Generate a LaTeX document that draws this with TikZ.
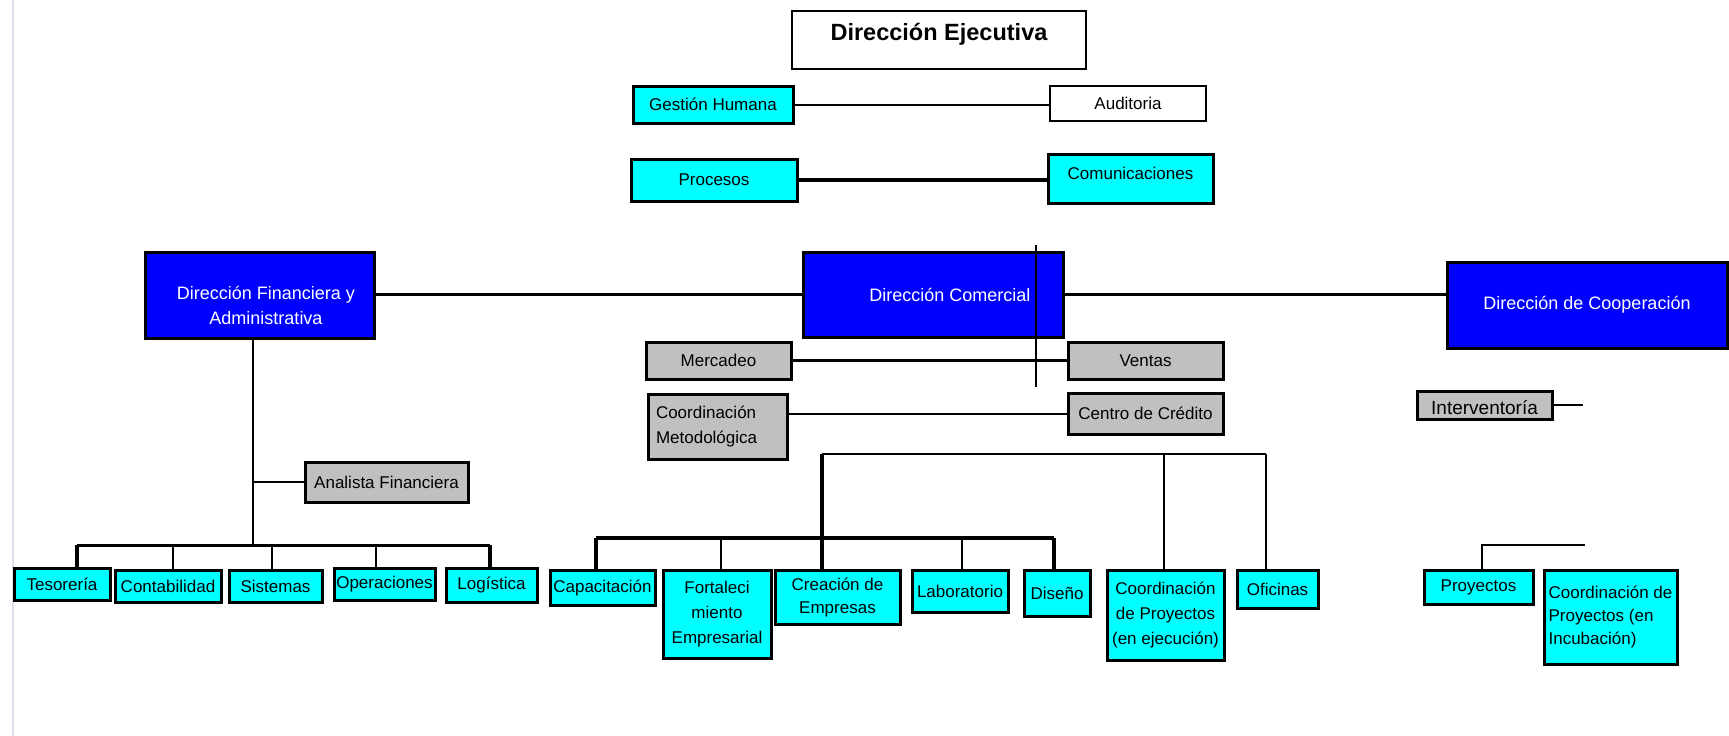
\documentclass[tikz,border=0pt]{standalone}
\usepackage{fontspec}
\setmainfont{Liberation Sans}
\definecolor{boxcyan}{RGB}{0,255,255}
\definecolor{boxblue}{RGB}{0,0,255}
\definecolor{boxgray}{RGB}{192,192,192}
\definecolor{marginline}{RGB}{218,224,236}

% box given by its corners (x1,y1) and (x2,y2), y growing downwards
\newcommand\orgbox[7]{%
  \node[#6, minimum width={(#4-#2)*1pt}, minimum height={(#5-#3)*1pt}]
    (#1) at ({(#2+#4)/2},{(#3+#5)/2}) {#7};}

\tikzset{
  base/.style={draw=black, line width=3pt, inner sep=0pt,
    font=\fontsize{17}{25}\selectfont, text=black, align=center},
  cyanbox/.style={base, fill=boxcyan},
  graybox/.style={base, fill=boxgray},
  whitebox/.style={base, fill=white, line width=2pt},
  bluebox/.style={base, fill=boxblue, text=white, font=\fontsize{18}{25}\selectfont},
  ln/.style={line width=2pt},
  lnk/.style={line width=3.5pt},
  lnx/.style={line width=4.5pt},
}

\begin{document}
\begin{tikzpicture}[x=1pt, y=-1pt]
\useasboundingbox (0,0) rectangle (1729,736);

% page margin rule
\coordinate (mtop) at (12.6,0);
\coordinate (mbot) at (12.6,736);
\draw[marginline, line width=2pt] (mtop) -- (mbot);

% executive level
\orgbox{dej}{792}{11}{1086}{69}{whitebox, font=\fontsize{23.5}{28}\selectfont\bfseries, text height=16pt, text depth=16pt}{Dirección Ejecutiva}
\orgbox{gh}{633}{86}{793}{123}{cyanbox}{Gestión Humana}
\orgbox{aud}{1050}{86}{1206}{121}{whitebox}{Auditoria}
\orgbox{proc}{631}{159}{797}{201}{cyanbox}{Procesos}
\orgbox{com}{1048}{154}{1213}{203}{cyanbox, text height=12pt, text depth=11pt}{Comunicaciones}

% directions
\orgbox{dfin}{145}{252}{374}{338}{bluebox, text height=60pt, text depth=2pt}{\hspace*{13pt}Dirección Financiera y\\\hspace*{13pt}Administrativa}
\orgbox{dcom}{803}{252}{1063}{337}{bluebox}{\hspace*{34pt}Dirección Comercial}
\orgbox{dcoop}{1447}{262}{1727}{348}{bluebox}{Dirección de Cooperación}

% commercial staff
\orgbox{merc}{646}{342}{791}{379}{graybox}{Mercadeo}
\orgbox{vent}{1068}{342}{1223}{379}{graybox}{Ventas}
\orgbox{cmet}{648}{394}{787}{459}{graybox, align=left, text width=123pt}{Coordinación\\Metodológica}
\orgbox{ccred}{1068}{393}{1223}{434}{graybox}{Centro de Crédito}
\orgbox{anal}{305}{462}{468}{502}{graybox}{Analista Financiera}
\orgbox{inter}{1417}{391}{1552}{419}{graybox, font=\fontsize{19}{25}\selectfont, text height=19pt, text depth=0pt}{Interventoría}

% operational units
\orgbox{tes}{14}{568}{110}{600}{cyanbox}{Tesorería}
\orgbox{cont}{115}{570}{221}{602}{cyanbox}{Contabilidad}
\orgbox{sist}{229}{570}{322}{602}{cyanbox}{Sistemas}
\orgbox{oper}{334}{568}{435}{600}{cyanbox}{Operaciones}
\orgbox{logi}{446}{568}{537}{602}{cyanbox}{Logística}
\orgbox{capa}{550}{570}{655}{605}{cyanbox}{Capacitación}
\orgbox{fort}{663}{570}{771}{658}{cyanbox}{Fortaleci\\miento\\Empresarial}
\orgbox{crea}{775}{570}{900}{624}{cyanbox, font=\fontsize{17}{23}\selectfont}{Creación de\\Empresas}
\orgbox{labo}{912}{570}{1008}{612}{cyanbox}{Laboratorio}
\orgbox{dise}{1024}{570}{1090}{616}{cyanbox}{Diseño}
\orgbox{cpej}{1107}{570}{1224}{660}{cyanbox}{Coordinación\\de Proyectos\\(en ejecución)}
\orgbox{ofic}{1237}{570}{1318}{608}{cyanbox}{Oficinas}
\orgbox{proy}{1424}{570}{1533}{604}{cyanbox}{Proyectos}
\orgbox{cpin}{1544}{570}{1677}{664}{cyanbox, align=left, font=\fontsize{17}{23}\selectfont}{Coordinación de\\Proyectos (en\\Incubación)}

% junction points
\coordinate (vt) at (1036,245);
\coordinate (vb) at (1036,387);
\coordinate (fb) at (253,545);
\coordinate (b1l) at (77,545);
\coordinate (b1a) at (172.5,545);
\coordinate (b1b) at (272,545);
\coordinate (b1c) at (376,545);
\coordinate (b1r) at (490,545);
\coordinate (tb) at (822,454);
\coordinate (tbm) at (1164,454);
\coordinate (tbr) at (1266,454);
\coordinate (b2l) at (596,538);
\coordinate (b2a) at (721,538);
\coordinate (b2b) at (962,538);
\coordinate (b2r) at (1054,538);
\coordinate (pj) at (1482,545);
\coordinate (pe) at (1585,545);
\coordinate (ie) at (1583,402);

% staff links
\draw[ln] (gh.east) -- (gh.east -| aud.west);
\draw[lnk] (proc.east) -- (proc.east -| com.west);
\draw[lnk] (dfin.east |- dcom.west) -- (dcom.west);
\draw[lnk] (dcom.east) -- (dcom.east -| dcoop.west);
\draw[ln] (vt) -- (vb);
\draw[lnk] (merc.east) -- (merc.east -| vent.west);
\draw[ln] (cmet.east |- ccred.west) -- (ccred.west);

% financial branch
\draw[ln] (fb |- dfin.south) -- (fb);
\draw[ln] (fb |- anal.west) -- (anal.west);
\draw[line width=3pt] (b1l) -- (b1r);
\draw[lnx] (b1l) -- (b1l |- tes.north);
\draw[ln] (b1a) -- (b1a |- cont.north);
\draw[ln] (b1b) -- (b1b |- sist.north);
\draw[ln] (b1c) -- (b1c |- oper.north);
\draw[lnx] (b1r) -- (b1r |- logi.north);

% commercial branch
\draw[ln] (tb) -- (tbr);
\draw[lnk] (tb) -- (tb |- crea.north);
\draw[ln] (tbm) -- (tbm |- cpej.north);
\draw[ln] (tbr) -- (tbr |- ofic.north);
\draw[lnx] (b2l) -- (b2r);
\draw[lnx] (b2l) -- (b2l |- capa.north);
\draw[ln] (b2a) -- (b2a |- fort.north);
\draw[ln] (b2b) -- (b2b |- labo.north);
\draw[lnx] (b2r) -- (b2r |- dise.north);

% cooperation branch
\draw[ln] (inter.east) -- (inter.east -| ie);
\draw[ln] (pj |- proy.north) -- (pj) -- (pe);
\end{tikzpicture}
\end{document}
